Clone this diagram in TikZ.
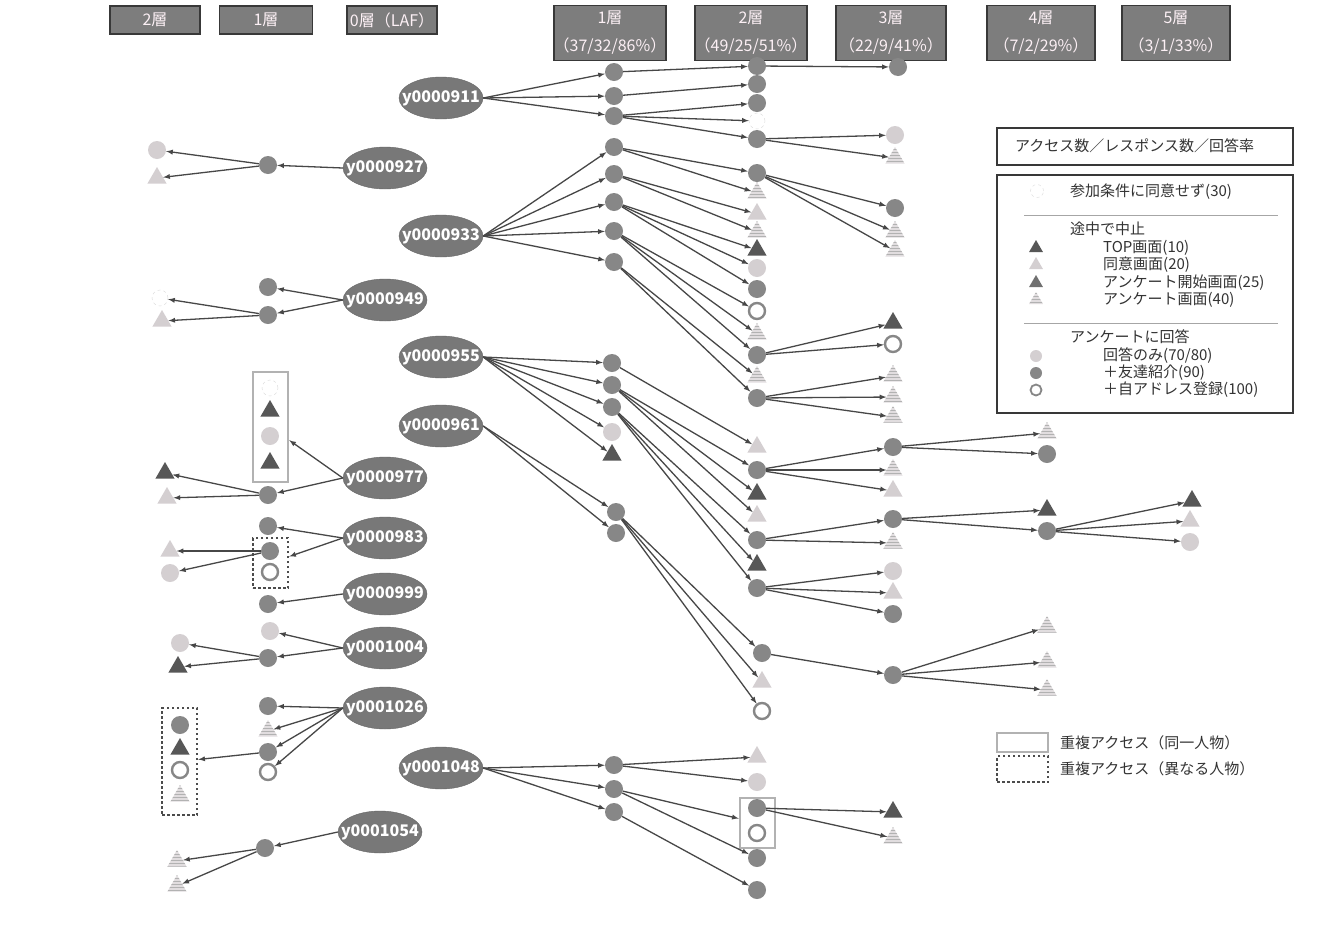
\documentclass[tikz,border=0pt]{standalone}
\usepackage{fontspec}
\newfontfamily\jp{Noto Sans CJK JP}
\usetikzlibrary{arrows, positioning, shapes.geometric, patterns}
\definecolor{boxgray}{rgb}{0.49,0.49,0.49}
\definecolor{boxline}{rgb}{0.22,0.22,0.22}
\definecolor{boxtext}{rgb}{0.99,0.94,0.96}
\definecolor{ovalgray}{rgb}{0.47,0.47,0.47}
\definecolor{arrowgray}{rgb}{0.28,0.28,0.28}
\definecolor{dotgray}{rgb}{0.53,0.53,0.53}
\definecolor{palegray}{rgb}{0.83,0.81,0.82}
\definecolor{darktri}{rgb}{0.34,0.34,0.34}
\newcommand{\uid}[1]{\makebox[0pt]{#1}}

\begin{document}
\begin{tikzpicture}[x=1pt, y=-1pt, >=latex,
        hdr/.style={draw=boxline, line width=1.8, fill=boxgray, text=boxtext, align=center, inner sep=0pt, font=\jp\fontsize{16}{28}\selectfont},
        usr/.style={ellipse, draw=ovalgray!85!black, fill=ovalgray, text=white, inner sep=0pt, minimum width=84, minimum height=42, font=\jp\bfseries\fontsize{16}{19}\selectfont},
        gc/.style={circle, fill=dotgray, inner sep=0pt, minimum size=18},
        lc/.style={circle, fill=palegray, inner sep=0pt, minimum size=18},
        wc/.style={circle, draw=black!15, dashed, fill=white, inner sep=0pt, minimum size=16},
        rc/.style={circle, draw=dotgray, line width=2.4, fill=white, inner sep=0pt, minimum size=16},
        tri/.style={regular polygon, regular polygon sides=3, inner sep=0pt, minimum size=22},
        dt/.style={tri, fill=darktri},
        lt/.style={tri, fill=palegray},
        ht/.style={tri, preaction={fill=palegray!70!white}, pattern=horizontal lines, pattern color=black!30},
        lnk/.style={draw=arrowgray, line width=1.3, ->},
        dupsame/.style={draw=black!30, line width=2.5, inner sep=0pt},
        dupdiff/.style={draw=black!70, line width=2.5, dash pattern=on 2.5pt off 2.5pt, inner sep=0pt},
        lgd/.style={anchor=west, inner sep=0pt, text=black!80, font=\jp\fontsize{15}{17}\selectfont}]
        \fill[white] (0,0) rectangle (1334,927);
        \useasboundingbox (0,0) rectangle (1334,927);

        \node[hdr, minimum width=90, minimum height=28] (T2L) at (155,20) {2層};
        \node[hdr, minimum width=93, minimum height=28] (T1L) at (266,20) {1層};
        \node[hdr, minimum width=90, minimum height=28] (T0) at (392,20) {0層（LAF）};
        \node[hdr, minimum width=110, minimum height=55] (T1) at (610,33) {1層\\（37/32/86\%）};
        \node[hdr, minimum width=109, minimum height=55] (T2) at (751,33) {2層\\（49/25/51\%）};
        \node[hdr, minimum width=110, minimum height=55] (T3) at (891,33) {3層\\（22/9/41\%）};
        \node[hdr, minimum width=108, minimum height=55] (T4) at (1041,33) {4層\\（7/2/29\%）};
        \node[hdr, minimum width=108, minimum height=55] (T5) at (1176,33) {5層\\（3/1/33\%）};

        \node[usr] (U911) at (441,98) {\uid{y0000911}};
        \node[usr] (U927) at (385,168) {\uid{y0000927}};
        \node[usr] (U933) at (441,236) {\uid{y0000933}};
        \node[usr] (U949) at (385,300) {\uid{y0000949}};
        \node[usr] (U955) at (441,357) {\uid{y0000955}};
        \node[usr] (U961) at (441,426) {\uid{y0000961}};
        \node[usr] (U977) at (385,478) {\uid{y0000977}};
        \node[usr] (U983) at (385,538) {\uid{y0000983}};
        \node[usr] (U999) at (385,594) {\uid{y0000999}};
        \node[usr] (U1004) at (385,648) {\uid{y0001004}};
        \node[usr] (U1026) at (385,708) {\uid{y0001026}};
        \node[usr] (U1048) at (441,768) {\uid{y0001048}};
        \node[usr] (U1054) at (380,832) {\uid{y0001054}};

        \node[gc] (A1) at (614,72) {};
        \node[gc] (A2) at (614,96) {};
        \node[gc] (A3) at (614,116) {};
        \node[gc] (A11) at (757,66) {};
        \node[gc] (A111) at (898,67) {};
        \node[gc] (A21) at (757,84) {};
        \node[gc] (A31) at (757,103) {};
        \node[wc] (A32) at (757,121) {};
        \node[gc] (A33) at (757,139) {};
        \node[lc] (A331) at (895,135) {};
        \node[ht] (A332) at (895,158) {};

        \node[gc] (B1) at (614,147) {};
        \node[gc] (B2) at (614,174) {};
        \node[gc] (B3) at (614,202) {};
        \node[gc] (B4) at (614,231) {};
        \node[gc] (B5) at (614,262) {};
        \node[gc] (B11) at (757,173) {};
        \node[ht] (B12) at (757,193) {};
        \node[lt] (B21) at (757,214) {};
        \node[ht] (B22) at (757,232) {};
        \node[dt] (B31) at (757,250) {};
        \node[lc] (B32) at (757,268) {};
        \node[gc] (B33) at (757,289) {};
        \node[rc] (B41) at (757,311) {};
        \node[ht] (B42) at (757,334) {};
        \node[gc] (B43) at (757,355) {};
        \node[ht] (B51) at (757,377) {};
        \node[gc] (B52) at (757,398) {};
        \node[gc] (B111) at (895,208) {};
        \node[ht] (B112) at (895,232) {};
        \node[ht] (B113) at (895,251) {};
        \node[dt] (B431) at (893,323) {};
        \node[rc] (B432) at (893,344) {};
        \node[ht] (B521) at (893,376) {};
        \node[ht] (B522) at (893,397) {};
        \node[ht] (B523) at (893,417) {};

        \node[gc] (C1) at (612,363) {};
        \node[gc] (C2) at (612,385) {};
        \node[gc] (C3) at (612,407) {};
        \node[lc] (C4) at (612,432) {};
        \node[dt] (C5) at (612,455) {};
        \node[lt] (C11) at (757,447) {};
        \node[gc] (C21) at (757,470) {};
        \node[dt] (C22) at (757,494) {};
        \node[lt] (C23) at (757,516) {};
        \node[gc] (C31) at (757,540) {};
        \node[dt] (C32) at (757,565) {};
        \node[gc] (C33) at (757,588) {};
        \node[gc] (C211) at (893,447) {};
        \node[ht] (C212) at (893,470) {};
        \node[lt] (C213) at (893,491) {};
        \node[ht] (C2111) at (1047,433) {};
        \node[gc] (C2112) at (1047,454) {};
        \node[gc] (C311) at (893,519) {};
        \node[ht] (C312) at (893,543) {};
        \node[dt] (C3111) at (1047,510) {};
        \node[gc] (C3112) at (1047,531) {};
        \node[dt] (C31121) at (1192,501) {};
        \node[lt] (C31122) at (1190,521) {};
        \node[lc] (C31123) at (1190,542) {};
        \node[lc] (C331) at (893,571) {};
        \node[lt] (C332) at (893,593) {};
        \node[gc] (C333) at (893,614) {};

        \node[gc] (D1) at (616,512) {};
        \node[gc] (D2) at (616,533) {};
        \node[gc] (D11) at (762,653) {};
        \node[lt] (D12) at (762,682) {};
        \node[rc] (D13) at (762,711) {};
        \node[gc] (D111) at (893,675) {};
        \node[ht] (D1111) at (1047,627) {};
        \node[ht] (D1112) at (1047,662) {};
        \node[ht] (D1113) at (1047,690) {};

        \node[gc] (E1) at (614,765) {};
        \node[gc] (E2) at (614,789) {};
        \node[gc] (E3) at (614,812) {};
        \node[lt] (E11) at (757,757) {};
        \node[lc] (E12) at (757,782) {};
        \node[dupsame, minimum width=35, minimum height=50] (BX4) at (757.5,823) {};
        \node[gc] (E21) at (757,808) {};
        \node[rc] (E22) at (757,833) {};
        \node[gc] (E23) at (757,858) {};
        \node[gc] (E31) at (757,890) {};
        \node[dt] (E211) at (893,812) {};
        \node[ht] (E212) at (893,838) {};

        \node[gc] (F1) at (268,165) {};
        \node[lc] (F11) at (157,150) {};
        \node[lt] (F12) at (157,178) {};
        \node[gc] (G1) at (268,287) {};
        \node[gc] (G2) at (268,315) {};
        \node[wc] (G21) at (160,298) {};
        \node[lt] (G22) at (162,321) {};
        \node[dupsame, minimum width=35, minimum height=110] (BX1) at (270.5,427) {};
        \node[wc] (H1) at (270,388) {};
        \node[dt] (H2) at (270,411) {};
        \node[lc] (H3) at (270,436) {};
        \node[dt] (H4) at (270,463) {};
        \node[gc] (H5) at (268,495) {};
        \node[dt] (H51) at (165,473) {};
        \node[lt] (H52) at (167,498) {};
        \node[gc] (I1) at (268,526) {};
        \node[dupdiff, minimum width=35, minimum height=50] (BX2) at (270.5,563) {};
        \node[gc] (I2) at (270,551) {};
        \node[rc] (I3) at (270,572) {};
        \node[lt] (I21) at (170,551) {};
        \node[lc] (I22) at (170,573) {};
        \node[gc] (J1) at (268,604) {};
        \node[lc] (K1) at (270,631) {};
        \node[gc] (K2) at (268,658) {};
        \node[lc] (K21) at (180,643) {};
        \node[dt] (K22) at (178,667) {};
        \node[gc] (L1) at (268,706) {};
        \node[ht] (L2) at (268,731) {};
        \node[gc] (L3) at (268,752) {};
        \node[rc] (L4) at (268,772) {};
        \node[dupdiff, minimum width=35, minimum height=107] (BX3) at (179.5,761.5) {};
        \node[gc] (L31) at (180,725) {};
        \node[dt] (L32) at (180,749) {};
        \node[rc] (L33) at (180,770) {};
        \node[ht] (L34) at (180,796) {};
        \node[gc] (M1) at (265,848) {};
        \node[ht] (M11) at (177,861) {};
        \node[ht] (M12) at (177,886) {};

        \foreach \s/\t in {U911.east/A1, U911.east/A2, U911.east/A3, A1/A11, A11/A111, A2/A21,
                A3/A31, A3/A32, A3/A33, A33/A331, A33/A332,
                U933.east/B1, U933.east/B2, U933.east/B3, U933.east/B4, U933.east/B5,
                B1/B11, B1/B12, B2/B21, B2/B22, B3/B31, B3/B32, B3/B33, B4/B41, B4/B42, B4/B43,
                B5/B51, B5/B52, B11/B111, B11/B112, B11/B113, B43/B431, B43/B432,
                B52/B521, B52/B522, B52/B523,
                U955.east/C1, U955.east/C2, U955.east/C3, U955.east/C4, U955.east/C5,
                C1/C11, C2/C21, C2/C22, C2/C23, C3/C31, C3/C32, C3/C33,
                C21/C211, C21/C212, C21/C213, C211/C2111, C211/C2112,
                C31/C311, C31/C312, C311/C3111, C311/C3112,
                C3112/C31121, C3112/C31122, C3112/C31123, C33/C331, C33/C332, C33/C333,
                U961.east/D1, U961.east/D2, D1/D11, D1/D12, D1/D13, D11/D111,
                D111/D1111, D111/D1112, D111/D1113,
                U1048.east/E1, U1048.east/E2, U1048.east/E3, E1/E11, E1/E12, E2/BX4, E2/E23,
                E3/E31, E21/E211, E21/E212,
                U927.west/F1, F1/F11, F1/F12, U949.west/G1, U949.west/G2, G2/G21, G2/G22,
                U977.west/BX1, U977.west/H5, H5/H51, H5/H52,
                U983.west/I1, U983.west/BX2, I2/I21, I2/I22, U999.west/J1,
                U1004.west/K1, U1004.west/K2, K2/K21, K2/K22,
                U1026.west/L1, U1026.west/L2, U1026.west/L3, U1026.west/L4, L3/BX3,
                U1054.west/M1, M1/M11, M1/M12}
            \draw[lnk] (\s) -- (\t);

        \node[draw=boxline, line width=2, minimum width=296, minimum height=37] (LG1) at (1145,146.5) {};
        \node[lgd] (LG1T) at (1015,146) {アクセス数／レスポンス数／回答率};
        \node[draw=boxline, line width=2, minimum width=296, minimum height=238] (LG2) at (1145,294) {};
        \node[wc, minimum size=13] (N1) at (1037,191) {};
        \node[lgd] (N1T) at (1070,192) {参加条件に同意せず(30)};
        \draw[black!35] (1024,215) -- (1278,215);
        \node[lgd] (N2H) at (1070,229) {途中で中止};
        \node[dt, minimum size=16] (N2) at (1036,248) {};
        \node[lgd] (N2T) at (1103,248) {TOP画面(10)};
        \node[lt, minimum size=16] (N3) at (1036,265) {};
        \node[lgd] (N3T) at (1103,265) {同意画面(20)};
        \node[tri, fill=darktri!85!white, minimum size=16] (N4) at (1036,283) {};
        \node[lgd] (N4T) at (1103,283) {アンケート開始画面(25)};
        \node[ht, minimum size=16] (N5) at (1036,300) {};
        \node[lgd] (N5T) at (1103,300) {アンケート画面(40)};
        \draw[black!35] (1024,323) -- (1278,323);
        \node[lgd] (N6H) at (1070,337) {アンケートに回答};
        \node[lc, minimum size=12] (N6) at (1036,356) {};
        \node[lgd] (N6T) at (1103,356) {回答のみ(70/80)};
        \node[gc, minimum size=12] (N7) at (1036,373) {};
        \node[lgd] (N7T) at (1103,373) {＋友達紹介(90)};
        \node[rc, minimum size=11, line width=1.8] (N8) at (1036,390) {};
        \node[lgd] (N8T) at (1103,390) {＋自アドレス登録(100)};

        \node[dupsame, minimum width=51, minimum height=19] (NS) at (1022.5,742.5) {};
        \node[lgd] (NST) at (1060,743) {重複アクセス（同一人物）};
        \node[dupdiff, minimum width=51, minimum height=26] (ND) at (1022.5,769) {};
        \node[lgd] (NDT) at (1060,769) {重複アクセス（異なる人物）};
    \end{tikzpicture}
\end{document}
